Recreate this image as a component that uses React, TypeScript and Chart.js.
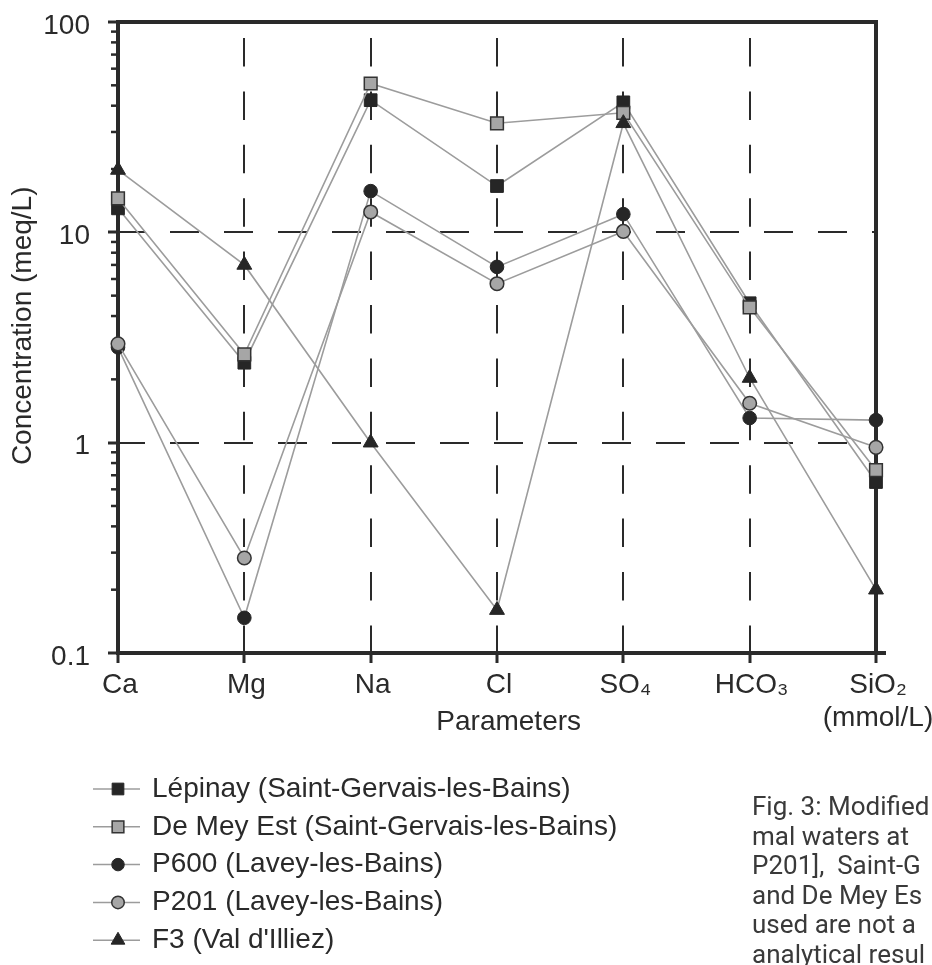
import React, { useEffect, useRef } from 'react';
import { Chart, registerables } from 'chart.js';
import { drawPoint } from 'chart.js/helpers';

Chart.register(...registerables);

// ---------- data ----------
const categories: (string | string[])[] = ['Ca', 'Mg', 'Na', 'Cl', 'SO₄', 'HCO₃', ['SiO₂', '(mmol/L)']];

const seriesNames = [
  'Lépinay (Saint-Gervais-les-Bains)',
  'De Mey Est (Saint-Gervais-les-Bains)',
  'P600 (Lavey-les-Bains)',
  'P201 (Lavey-les-Bains)',
  "F3 (Val d'Illiez)",
];

const lepinay = [13, 2.4, 42.5, 16.6, 41.5, 4.6, 0.65];
const deMeyEst = [14.5, 2.63, 51, 33, 37, 4.4, 0.74];
const p600 = [2.84, 0.147, 15.7, 6.85, 12.2, 1.31, 1.28];
const p201 = [2.95, 0.283, 12.5, 5.7, 10.1, 1.54, 0.95];
const f3 = [19.8, 7.0, 1.0, 0.16, 33, 2.03, 0.2];

const yTickValues = [0.1, 1, 10, 100];
const yTickLabels = ['0.1', '1', '10', '100'];
const yGridValues = [1, 10];

const captionLines = [
  'Fig. 3: Modified',
  'mal waters at',
  'P201],  Saint-G',
  'and De Mey Es',
  'used are not a',
  'analytical resul',
];

// ---------- style ----------
const FONT = "'Liberation Sans', Arial, Helvetica, sans-serif";
const INK = '#2a2a2a';
const LINE = '#9c9c9c';
const BLACK = '#262626';
const GREY = '#a6a6a6';

const near = (a: number, b: number) => Math.abs(a - b) < 1e-9 * Math.max(1, Math.abs(b));
const isDecadeStep = (v: number) => {
  const e = Math.floor(Math.log10(v) + 1e-9);
  const m = v / Math.pow(10, e);
  return Math.abs(m - Math.round(m)) < 1e-6 && Math.round(m) >= 1 && Math.round(m) <= 9;
};

const framePlugin = {
  id: 'frameAndMinorTicks',
  beforeDatasetsDraw(chart: any) {
    const { ctx, chartArea } = chart;
    const { left, right, top, bottom } = chartArea;
    const y = chart.scales.y;
    ctx.save();
    ctx.strokeStyle = INK;
    ctx.lineWidth = 2.5;
    y.ticks.forEach((t: any) => {
      if (!yTickValues.some((v) => near(v, t.value))) {
        const py = y.getPixelForValue(t.value);
        ctx.beginPath();
        ctx.moveTo(left - 7, py);
        ctx.lineTo(left, py);
        ctx.stroke();
      }
    });
    ctx.lineWidth = 4;
    ctx.strokeRect(left, top, right - left, bottom - top);
    ctx.beginPath();
    ctx.moveTo(right, bottom);
    ctx.lineTo(right + 10, bottom);
    ctx.stroke();
    ctx.restore();
  },
};

const LEGEND_TOP = 789;
const LEGEND_ROW = 37.8;

const legendPlugin = {
  id: 'columnLegend',
  afterDraw(chart: any) {
    const { ctx, chartArea } = chart;
    const x0 = chartArea.left;
    chart.data.datasets.forEach((ds: any, i: number) => {
      const y = LEGEND_TOP + i * LEGEND_ROW;
      ctx.save();
      ctx.strokeStyle = LINE;
      ctx.lineWidth = 1.5;
      ctx.beginPath();
      ctx.moveTo(x0 - 25, y);
      ctx.lineTo(x0 + 22, y);
      ctx.stroke();
      ctx.fillStyle = ds.pointBackgroundColor;
      ctx.strokeStyle = ds.pointBorderColor;
      ctx.lineWidth = ds.pointBorderWidth;
      drawPoint(ctx, { pointStyle: ds.pointStyle, rotation: 0, radius: ds.pointRadius * 0.92, borderWidth: ds.pointBorderWidth }, x0, y);
      ctx.fillStyle = INK;
      ctx.font = `28px ${FONT}`;
      ctx.textBaseline = 'middle';
      ctx.textAlign = 'left';
      ctx.fillText(ds.label, x0 + 34, y);
      ctx.restore();
    });
  },
};

export default function App() {
  const ref = useRef<HTMLCanvasElement | null>(null);

  useEffect(() => {
    if (!ref.current) return;
    Chart.defaults.font.family = FONT;
    const mk = (label: string, data: number[], style: string, radius: number, fill: string, border: string, bw: number, order: number) => ({
      label,
      data,
      pointStyle: style,
      pointRadius: radius,
      pointHoverRadius: radius,
      pointBackgroundColor: fill,
      pointBorderColor: border,
      pointBorderWidth: bw,
      borderColor: LINE,
      borderWidth: 1.6,
      tension: 0,
      fill: false,
      clip: false,
      order,
    });

    const chart = new Chart(ref.current, {
      type: 'line',
      data: {
        labels: categories as any,
        datasets: [
          mk(seriesNames[0], lepinay, 'rect', 9, BLACK, BLACK, 1, 5),
          mk(seriesNames[1], deMeyEst, 'rect', 9, GREY, '#333333', 1.5, 4),
          mk(seriesNames[2], p600, 'circle', 6.8, BLACK, BLACK, 1, 3),
          mk(seriesNames[3], p201, 'circle', 6.8, GREY, '#333333', 1.5, 2),
          mk(seriesNames[4], f3, 'triangle', 8.6, BLACK, BLACK, 1, 1),
        ] as any,
      },
      options: {
        animation: false,
        responsive: true,
        maintainAspectRatio: false,
        events: [],
        layout: { padding: { left: 0, top: 22, right: 56, bottom: 226 } },
        plugins: { legend: { display: false }, tooltip: { enabled: false } },
        scales: {
          x: {
            type: 'category',
            offset: false,
            grid: {
              color: (c: any) => (c.index > 0 && c.index < categories.length - 1 ? INK : 'transparent'),
              lineWidth: 2,
              drawTicks: true,
              tickLength: 10,
              tickWidth: 3,
              tickColor: INK,
            },
            border: { display: true, color: INK, width: 4, dash: [28.5, 24.9], dashOffset: 37.4 },
            ticks: {
              color: INK,
              font: { size: 28, family: FONT },
              padding: 5,
              autoSkip: false,
              maxRotation: 0,
              minRotation: 0,
              labelOffset: 2,
            },
            title: {
              display: true,
              text: '   Parameters',
              color: INK,
              font: { size: 28, family: FONT },
              padding: { top: 0, bottom: 0 },
            },
            afterFit: (s: any) => {
              s.height = 86;
              s.paddingLeft = 0;
              s.paddingRight = 0;
            },
          },
          y: {
            type: 'logarithmic',
            min: 0.1,
            max: 100,
            afterBuildTicks: (s: any) => {
              s.ticks = s.ticks.filter((t: any) => isDecadeStep(t.value));
            },
            grid: {
              color: (c: any) => (c.tick && yGridValues.some((v) => near(v, c.tick.value)) ? INK : 'transparent'),
              lineWidth: 2,
              drawTicks: true,
              tickLength: 10,
              tickWidth: 3,
              tickColor: (c: any) => (c.tick && yTickValues.some((v) => near(v, c.tick.value)) ? INK : 'transparent'),
            },
            border: { display: true, color: INK, width: 4, dash: [29, 25], dashOffset: 4 },
            ticks: {
              autoSkip: false,
              color: INK,
              font: { size: 28, family: FONT },
              padding: 18,
              labelOffset: 4,
              callback: (v: any) => {
                const i = yTickValues.findIndex((t) => near(t, Number(v)));
                return i >= 0 ? yTickLabels[i] : '';
              },
            },
            title: {
              display: true,
              text: '   Concentration (meq/L)',
              color: INK,
              font: { size: 28, family: FONT },
              padding: { top: 6, bottom: 0 },
            },
            afterFit: (s: any) => {
              s.width = 118;
              s.paddingTop = 0;
              s.paddingBottom = 0;
            },
          },
        },
      } as any,
      plugins: [framePlugin, legendPlugin],
    });
    return () => chart.destroy();
  }, []);

  return (
    <div
      style={{
        position: 'absolute',
        left: 0,
        top: 0,
        width: 932,
        height: 965,
        overflow: 'hidden',
        background: '#ffffff',
      }}
    >
      <div style={{ position: 'absolute', left: 0, top: 0, width: 932, height: 965 }}>
        <canvas ref={ref} />
      </div>
      <div
        style={{
          position: 'absolute',
          left: 752,
          top: 792,
          fontFamily: 'Roboto, "Noto Sans", sans-serif',
          fontSize: 26,
          lineHeight: '29.6px',
          color: '#3a3a3a',
          whiteSpace: 'pre',
        }}
      >
        {captionLines.map((l, i) => (
          <div key={i}>{l}</div>
        ))}
      </div>
    </div>
  );
}
